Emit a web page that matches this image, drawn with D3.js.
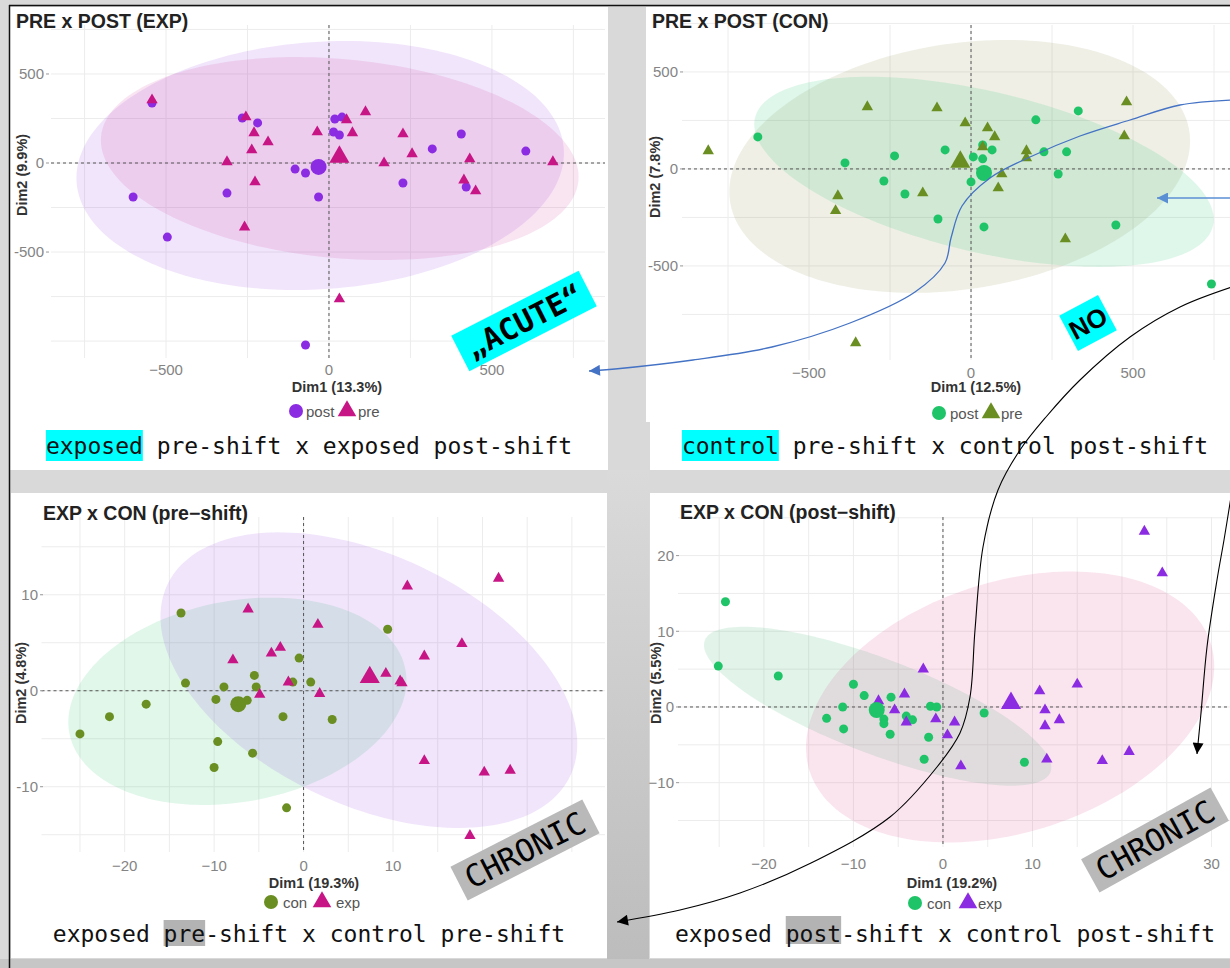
<!DOCTYPE html>
<html>
<head>
<meta charset="utf-8">
<script src="https://cdn.jsdelivr.net/npm/d3@7"></script>
<style>
  body { margin: 0; background: #d9d9d9; }
  svg { display: block; }
</style>
</head>
<body>
<script>
// ---- PRE x POST (EXP) : Dim1 / Dim2 scores
const expPost = [[-543,337],[-266,253],[-219,225],[18,247],[40,258],[14,174],[32,157],[406,163],[317,79],[604,67],
  [-104,-34],[-72,-56],[-313,-169],[-32,-191],[227,-112],[421,-135],[-601,-191],[-496,-416],[-72,-1022]];
const expPre = [[-543,354],[-255,258],[-230,169],[-187,118],[-237,73],[-313,6],[-227,-107],[-259,-360],[-36,174],[54,242],
  [112,287],[72,169],[227,163],[255,51],[169,0],[432,22],[414,-96],[450,-157],[687,6],[32,-764]];
const expMeans = [[-32,-22],[32,34]];            // post, pre
// ellipses: centre x, centre y, half x-range, half y-range, correlation
const expEllipses = [[-27,-14,748,699,0.1],[33,25,733,570,-0.18]];

// ---- PRE x POST (CON)
const conPost = [[-658,165],[-389,31],[-236,67],[-269,-62],[-204,-129],[-80,98],[7,62],[36,124],[36,52],[65,98],
  [0,-67],[-102,-258],[40,-299],[200,253],[225,88],[295,88],[269,-26],[331,299],[447,-289],[742,-593]];
const conPre = [[-811,93],[-320,320],[-105,314],[-18,237],[51,211],[73,165],[36,113],[171,93],[171,57],[95,-26],
  [84,-98],[-149,-124],[-411,-139],[-418,-216],[291,-361],[473,170],[480,345],[-356,-897]];
const conMeans = [[40,-21],[-33,36]];
const conEllipses = [[-35,13,711,652,0.2],[40,-15,709,490,-0.5]];

// ---- EXP x CON (pre-shift)
const preCon = [[-13.7,8.1],[9.4,6.4],[-0.5,3.4],[-5.5,1.6],[-13.2,0.8],[-8.9,0.4],[-5.3,0.4],[-1.2,0.9],[0.8,0.9],[-9.8,-0.9],
  [-6.3,-1.0],[-17.6,-1.4],[-21.7,-2.7],[-2.3,-2.7],[3.2,-3.0],[-25.0,-4.5],[-9.6,-5.3],[-5.7,-6.5],[-10.0,-8.0],[-1.9,-12.2]];
const preExp = [[-6.2,8.5],[11.6,10.9],[21.8,11.7],[1.6,6.9],[-2.6,4.5],[-3.6,3.9],[-7.9,3.2],[17.7,4.9],[13.5,3.6],[9.2,1.8],
  [10.8,1.0],[11.0,0.8],[-1.7,0.9],[1.8,-0.3],[-4.9,-0.4],[13.5,-7.3],[20.2,-8.5],[23.1,-8.3],[18.6,-15.1]];
const preMeans = [[-7.3,-1.4],[7.4,1.4]];
const preEllipses = [[-7.4,-1.1,18.9,10.8,0.2],[7.3,1.1,23.3,15.4,-0.43]];

// ---- EXP x CON (post-shift)
const postCon = [[-24.3,13.9],[-25.1,5.4],[-18.4,4.1],[-10.0,3.0],[-8.8,1.5],[-11.2,0],[-13.0,-1.5],[-11.1,-2.9],[-5.8,1.3],[-6.6,-1.6],
  [-6.6,-2.2],[-5.9,-3.6],[-4.1,-1.2],[-3.4,-1.7],[-1.4,0.1],[-0.7,0],[-1.6,-4.0],[-2.1,-6.9],[4.6,-0.8],[9.1,-7.3]];
const postExp = [[22.5,23.2],[24.5,17.7],[-2.2,5.0],[-4.3,1.7],[-7.2,0.8],[-5.4,-0.4],[-4.1,-2.0],[-0.8,-1.6],[1.3,-2.0],[0.5,-3.7],
  [2.0,-7.8],[10.8,2.1],[11.4,-0.4],[11.4,-2.5],[13.0,-1.7],[15.0,3.0],[11.6,-6.9],[17.8,-7.1],[20.8,-5.9]];
const postMeans = [[-7.4,-0.4],[7.6,0.5]];
const postEllipses = [[-7.3,0.1,19.4,10.5,-0.77],[7.5,0,22.8,17.9,0.3]];

// tick values and labels
const bigTicks = [-500, 0, 500];
const bigTickLabels = ["−500", "0", "500"];
const bigYLabels = ["-500", "0", "500"];
const smallXTicks = [-20, -10, 0, 10, 20, 30];
const smallXLabels = ["−20", "−10", "0", "10", "20", "30"];
const smallYTicks3 = [-10, 0, 10];
const smallYTicks4 = [-10, 0, 10, 20];
const smallYLabels3 = ["-10", "0", "10"];
const smallYLabels4 = ["−10", "0", "10", "20"];

const SANS = "'Liberation Sans', Arial, sans-serif";
const MONO = "'DejaVu Sans Mono', monospace";
const PURPLE = "#8b2be2", MAGENTA = "#c71585", GREEN = "#1ec467", OLIVE = "#6b8e23";

const svg = d3.select("body").append("svg")
    .attr("width", 1230)
    .attr("height", 968);

const defs = svg.append("defs");
const grad = defs.append("linearGradient").attr("id", "strip").attr("x1", 0).attr("y1", 0).attr("x2", 0).attr("y2", 1);
grad.append("stop").attr("offset", "0").attr("stop-color", "#dadada");
grad.append("stop").attr("offset", "1").attr("stop-color", "#bcbcbc");

function marker(id, color) {
  defs.append("marker")
      .attr("id", id)
      .attr("viewBox", "0 0 10 10")
      .attr("refX", 10).attr("refY", 5)
      .attr("markerUnits", "userSpaceOnUse")
      .attr("markerWidth", 13).attr("markerHeight", 11)
      .attr("orient", "auto")
    .append("path").attr("d", "M0,0L10,5L0,10Z").attr("fill", color);
}
marker("headBlue", "#4472c4");
marker("headBlue2", "#5b8fd4");
marker("headBlack", "#000");

// background pieces
svg.append("rect").attr("width", 1230).attr("height", 968).attr("fill", "#d9d9d9");
svg.append("rect").attr("x", 607).attr("y", 470).attr("width", 42).attr("height", 498).attr("fill", "url(#strip)");
svg.append("rect").attr("x", 0).attr("y", 959).attr("width", 1230).attr("height", 9).attr("fill", "#c6c6c6");

const panels = [
  { box: [10, 7, 598, 414], cap: [10, 421, 598, 49], left: 51, right: 605, top: 25, bottom: 358,
    xDomain: [-853, 847], yDomain: [-1095, 775], xGrid: d3.range(-750, 751, 250), yGrid: d3.range(-1000, 751, 250),
    xTicks: bigTicks, xLabels: bigTickLabels, yTicks: bigTicks, yLabels: bigYLabels, yLabelX: 48, xLabelY: 375,
    title: "PRE x POST (EXP)", titleX: 16, titleY: 28,
    xTitle: "Dim1 (13.3%)", xTitleX: 337, xTitleY: 392, yTitle: "Dim2 (9.9%)", yTitleX: 22, yTitleY: 175,
    circles: expPost, triangles: expPre, means: expMeans, ellipses: expEllipses,
    cColor: PURPLE, tColor: MAGENTA, eColors: [[PURPLE, 0.12], [MAGENTA, 0.11]],
    legend: { y: 411, c: 296, cText: 306, t: 347, tText: 358, cLab: "post", tLab: "pre" },
    caption: { cx: 309, y: 454, text: "exposed pre-shift x exposed post-shift", hi: [0, 7], hy: [430, 461], hColor: "#00ffff" } },
  { box: [646, 7, 600, 415], cap: [650, 422, 600, 48], left: 682, right: 1250, top: 25, bottom: 360,
    xDomain: [-892, 861], yDomain: [-985, 742], xGrid: d3.range(-750, 1001, 250), yGrid: d3.range(-750, 751, 250),
    xTicks: bigTicks, xLabels: bigTickLabels, yTicks: bigTicks, yLabels: bigYLabels, yLabelX: 682, xLabelY: 378,
    title: "PRE x POST (CON)", titleX: 652, titleY: 28,
    xTitle: "Dim1 (12.5%)", xTitleX: 976, xTitleY: 392, yTitle: "Dim2 (7.8%)", yTitleX: 655, yTitleY: 177,
    circles: conPost, triangles: conPre, means: conMeans, ellipses: conEllipses,
    cColor: GREEN, tColor: OLIVE, eColors: [["#8c8c50", 0.14], [GREEN, 0.14]],
    legend: { y: 413, c: 939, cText: 950, t: 991, tText: 1001, cLab: "post", tLab: "pre" },
    caption: { cx: 945, y: 454, text: "control pre-shift x control post-shift", hi: [0, 7], hy: [430, 461], hColor: "#00ffff" } },
  { box: [11, 493, 596, 420], cap: [11, 913, 596, 45], left: 41.5, right: 605, top: 517, bottom: 852,
    xDomain: [-29.3, 33.7], yDomain: [-16.8, 18.1], xGrid: d3.range(-25, 31, 5), yGrid: d3.range(-15, 16, 5),
    xTicks: smallXTicks.slice(0, 5), xLabels: smallXLabels.slice(0, 5), yTicks: smallYTicks3, yLabels: smallYLabels3, yLabelX: 42, xLabelY: 871,
    title: "EXP x CON (pre−shift)", titleX: 43, titleY: 520,
    xTitle: "Dim1 (19.3%)", xTitleX: 314, xTitleY: 888, yTitle: "Dim2 (4.8%)", yTitleX: 21, yTitleY: 683,
    circles: preCon, triangles: preExp, means: preMeans, ellipses: preEllipses,
    cColor: OLIVE, tColor: MAGENTA, eColors: [["#2ecc71", 0.15], [PURPLE, 0.12]],
    legend: { y: 902, c: 271, cText: 283, t: 322, tText: 336, cLab: "con", tLab: "exp" },
    caption: { cx: 309, y: 942, text: "exposed pre-shift x control pre-shift", hi: [8, 3], hy: [920, 946], hColor: "#b3b3b3" } },
  { box: [650, 493, 600, 420], cap: [650, 913, 600, 45], left: 678, right: 1250, top: 517, bottom: 847,
    xDomain: [-29.6, 34.3], yDomain: [-18.5, 25.1], xGrid: d3.range(-25, 36, 5), yGrid: d3.range(-15, 26, 5),
    xTicks: smallXTicks, xLabels: smallXLabels, yTicks: smallYTicks4, yLabels: smallYLabels4, yLabelX: 678, xLabelY: 869,
    title: "EXP x CON (post−shift)", titleX: 680, titleY: 519,
    xTitle: "Dim1 (19.2%)", xTitleX: 952, xTitleY: 888, yTitle: "Dim2 (5.5%)", yTitleX: 656, yTitleY: 683,
    circles: postCon, triangles: postExp, means: postMeans, ellipses: postEllipses,
    cColor: GREEN, tColor: PURPLE, eColors: [["#3cb371", 0.15], ["#d63384", 0.13]],
    legend: { y: 903, c: 915, cText: 927, t: 968, tText: 978, cLab: "con", tLab: "exp" },
    caption: { cx: 945, y: 942, text: "exposed post-shift x control post-shift", hi: [8, 4], hy: [916, 944], hColor: "#b3b3b3" } }
];

const tri = d3.symbol().type(d3.symbolTriangle);

function drawPanel(p) {
  const g = svg.append("g");
  g.append("rect").attr("x", p.box[0]).attr("y", p.box[1]).attr("width", p.box[2]).attr("height", p.box[3]).attr("fill", "#fff");
  g.append("rect").attr("x", p.cap[0]).attr("y", p.cap[1]).attr("width", p.cap[2]).attr("height", p.cap[3]).attr("fill", "#fff");

  const x = d3.scaleLinear().domain(p.xDomain).range([p.left, p.right]);
  const y = d3.scaleLinear().domain(p.yDomain).range([p.bottom, p.top]);

  // grid
  g.selectAll(".gx").data(p.xGrid).join("line")
      .attr("x1", d => x(d)).attr("x2", d => x(d)).attr("y1", p.top).attr("y2", p.bottom)
      .attr("stroke", "#ececec").attr("stroke-width", 1);
  g.selectAll(".gy").data(p.yGrid).join("line")
      .attr("y1", d => y(d)).attr("y2", d => y(d)).attr("x1", p.left).attr("x2", p.right)
      .attr("stroke", "#ececec").attr("stroke-width", 1);

  // confidence ellipses
  const ts = d3.range(0, 2 * Math.PI + 0.01, Math.PI / 90);
  const line = d3.line();
  p.ellipses.forEach((e, i) => {
    const [cx, cy, a, b, r] = e;
    const pts = ts.map(t => [x(cx + a * Math.cos(t)), y(cy + b * (r * Math.cos(t) + Math.sqrt(1 - r * r) * Math.sin(t)))]);
    g.append("path").attr("d", line(pts) + "Z")
        .attr("fill", p.eColors[i][0]).attr("fill-opacity", p.eColors[i][1]);
  });

  // zero lines
  g.append("line").attr("x1", x(0)).attr("x2", x(0)).attr("y1", p.top).attr("y2", p.bottom)
      .attr("stroke", "#555").attr("stroke-dasharray", "3,3").attr("stroke-width", 1);
  g.append("line").attr("y1", y(0)).attr("y2", y(0)).attr("x1", p.left).attr("x2", p.right)
      .attr("stroke", "#555").attr("stroke-dasharray", "3,3").attr("stroke-width", 1);

  // points
  g.selectAll(".pc").data(p.circles).join("circle")
      .attr("cx", d => x(d[0])).attr("cy", d => y(d[1])).attr("r", 4.5).attr("fill", p.cColor);
  g.selectAll(".pt").data(p.triangles).join("path")
      .attr("d", tri.size(56)()).attr("transform", d => `translate(${x(d[0])},${y(d[1])})`).attr("fill", p.tColor);
  g.append("circle").attr("cx", x(p.means[0][0])).attr("cy", y(p.means[0][1])).attr("r", 8).attr("fill", p.cColor);
  g.append("path").attr("d", d3.symbol().type(d3.symbolTriangle).size(175)())
      .attr("transform", `translate(${x(p.means[1][0])},${y(p.means[1][1])})`).attr("fill", p.tColor);

  // axis tick labels
  g.selectAll(".xl").data(p.xTicks).join("text")
      .attr("x", d => x(d)).attr("y", p.xLabelY).attr("text-anchor", "middle")
      .attr("font-family", SANS).attr("font-size", 15).attr("fill", "#848484")
      .text((d, i) => p.xLabels[i]);
  g.selectAll(".yl").data(p.yTicks).join("text")
      .attr("x", p.yLabelX - 4).attr("y", d => y(d)).attr("dy", "0.35em").attr("text-anchor", "end")
      .attr("font-family", SANS).attr("font-size", 15).attr("fill", "#848484")
      .text((d, i) => p.yLabels[i]);
  g.selectAll(".yt").data(p.yTicks).join("line")
      .attr("x1", p.yLabelX - 2).attr("x2", p.yLabelX + 1).attr("y1", d => y(d)).attr("y2", d => y(d))
      .attr("stroke", "#999");

  // titles
  g.append("text").attr("x", p.titleX).attr("y", p.titleY)
      .attr("font-family", SANS).attr("font-weight", "bold").attr("font-size", 19.5).attr("fill", "#222")
      .text(p.title);
  g.append("text").attr("x", p.xTitleX).attr("y", p.xTitleY).attr("text-anchor", "middle")
      .attr("font-family", SANS).attr("font-weight", "bold").attr("font-size", 14.5).attr("fill", "#333")
      .text(p.xTitle);
  g.append("text").attr("transform", `translate(${p.yTitleX},${p.yTitleY}) rotate(-90)`)
      .attr("text-anchor", "middle").attr("dy", "0.35em")
      .attr("font-family", SANS).attr("font-weight", "bold").attr("font-size", 14.5).attr("fill", "#333")
      .text(p.yTitle);

  // legend
  const L = p.legend;
  g.append("circle").attr("cx", L.c).attr("cy", L.y).attr("r", 7).attr("fill", p.cColor);
  g.append("text").attr("x", L.cText).attr("y", L.y).attr("dy", "0.4em")
      .attr("font-family", SANS).attr("font-size", 15).attr("fill", "#555").text(L.cLab);
  g.append("path").attr("d", d3.symbol().type(d3.symbolTriangle).size(150)())
      .attr("transform", `translate(${L.t},${L.y})`).attr("fill", p.tColor);
  g.append("text").attr("x", L.tText).attr("y", L.y).attr("dy", "0.4em")
      .attr("font-family", SANS).attr("font-size", 15).attr("fill", "#555").text(L.tLab);

  // caption with highlighted word
  const C = p.caption;
  const hl = g.append("rect");
  const t = g.append("text").attr("x", C.cx).attr("y", C.y).attr("text-anchor", "middle")
      .attr("font-family", MONO).attr("font-size", 23).attr("fill", "#111").text(C.text);
  const total = t.node().getComputedTextLength();
  const cw = total / C.text.length;
  const x0 = C.cx - total / 2;
  hl.attr("x", x0 + C.hi[0] * cw).attr("y", C.hy[0]).attr("width", C.hi[1] * cw).attr("height", C.hy[1] - C.hy[0])
      .attr("fill", C.hColor);
}

panels.forEach(drawPanel);

// frame lines
svg.append("line").attr("x1", 9).attr("x2", 1230).attr("y1", 5.5).attr("y2", 5.5).attr("stroke", "#111").attr("stroke-width", 1.5);
svg.append("line").attr("x1", 9.5).attr("x2", 9.5).attr("y1", 5).attr("y2", 968).attr("stroke", "#111").attr("stroke-width", 1.5);

// annotation arrows (screen positions)
const arrowBlue = [[1232,100],[1180,105],[1130,120],[1080,136],[1030,157],[990,178],[962,206],[951,238],[945,263],[915,292],
  [850,323],[772,347],[693,360],[615,369],[589,371]];
const arrowBlue2 = [[1232,198],[1157,198]];
const arrowBlackA = [[1232,287],[1180,307],[1130,337],[1080,380],[1046,417],[1020,450],[998,490],[983,547],[975,630],
  [970,697],[960,733],[937,767],[890,817],[811,863],[740,893],[680,910],[617,922]];
const arrowBlackB = [[1231,497],[1224,540],[1217,580],[1207,647],[1201,713],[1197,754]];

const curve = d3.line().curve(d3.curveCatmullRom.alpha(0.5));
svg.append("path").attr("d", curve(arrowBlue)).attr("fill", "none").attr("stroke", "#4472c4").attr("stroke-width", 1.3)
    .attr("marker-end", "url(#headBlue)");
svg.append("path").attr("d", curve(arrowBlue2)).attr("fill", "none").attr("stroke", "#5b8fd4").attr("stroke-width", 1.5)
    .attr("marker-end", "url(#headBlue2)");
svg.append("path").attr("d", curve(arrowBlackA)).attr("fill", "none").attr("stroke", "#000").attr("stroke-width", 1.1)
    .attr("marker-end", "url(#headBlack)");
svg.append("path").attr("d", curve(arrowBlackB)).attr("fill", "none").attr("stroke", "#000").attr("stroke-width", 1.1)
    .attr("marker-end", "url(#headBlack)");

// rotated tags
const tags = [
  { text: "„ACUTE“", cx: 524, cy: 321, angle: -27, w: 143, h: 40, fill: "#00ffff", font: MONO, size: 30, weight: "bold" },
  { text: "NO", cx: 1088, cy: 323, angle: -28, w: 44, h: 40, fill: "#00ffff", font: SANS, size: 26, weight: "bold" },
  { text: "CHRONIC", cx: 525, cy: 850, angle: -27, w: 148, h: 38, fill: "#b9b9b9", font: MONO, size: 31, weight: "normal" },
  { text: "CHRONIC", cx: 1155, cy: 840, angle: -29, w: 148, h: 38, fill: "#b9b9b9", font: MONO, size: 31, weight: "normal" }
];
tags.forEach(d => {
  const g = svg.append("g").attr("transform", `translate(${d.cx},${d.cy}) rotate(${d.angle})`);
  g.append("rect").attr("x", -d.w / 2).attr("y", -d.h / 2).attr("width", d.w).attr("height", d.h).attr("fill", d.fill);
  g.append("text").attr("text-anchor", "middle").attr("dy", "0.36em")
      .attr("font-family", d.font).attr("font-size", d.size).attr("font-weight", d.weight).attr("fill", "#000")
      .text(d.text);
});
</script>
</body>
</html>
